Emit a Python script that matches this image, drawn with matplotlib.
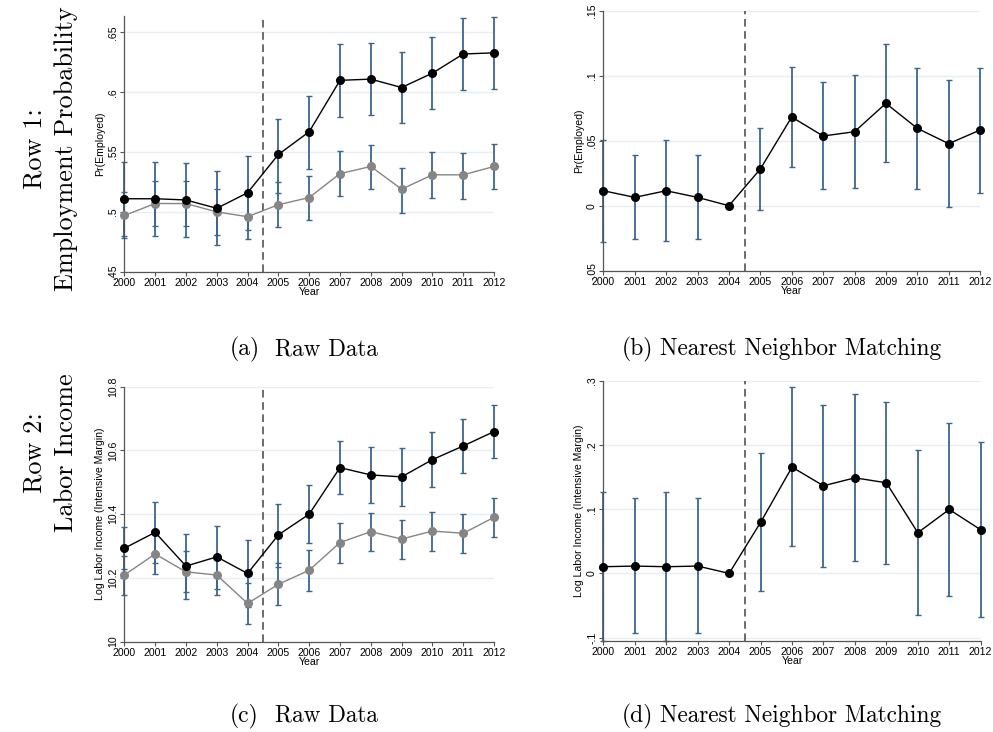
import matplotlib.pyplot as plt
import numpy as np

years = np.arange(2000, 2013)

# (a) raw employment probability: treated (black) and comparison (gray)
emp_treat = [0.511, 0.511, 0.510, 0.503, 0.516, 0.548, 0.567, 0.610, 0.611, 0.604, 0.616, 0.632, 0.633]
emp_treat_lo = [0.480, 0.480, 0.479, 0.472, 0.485, 0.516, 0.536, 0.579, 0.581, 0.574, 0.586, 0.602, 0.603]
emp_treat_hi = [0.542, 0.542, 0.541, 0.534, 0.547, 0.578, 0.597, 0.640, 0.641, 0.634, 0.646, 0.662, 0.663]
emp_comp = [0.497, 0.507, 0.507, 0.500, 0.496, 0.506, 0.512, 0.532, 0.538, 0.519, 0.531, 0.531, 0.538]
emp_comp_lo = [0.478, 0.488, 0.488, 0.481, 0.477, 0.487, 0.493, 0.513, 0.519, 0.499, 0.512, 0.511, 0.519]
emp_comp_hi = [0.517, 0.526, 0.526, 0.519, 0.516, 0.525, 0.530, 0.551, 0.556, 0.537, 0.550, 0.549, 0.557]

# (b) nearest neighbor matching, employment
emp_nn = [0.0115, 0.0064, 0.0115, 0.0064, 0.0, 0.0282, 0.0682, 0.0536, 0.0569, 0.0787, 0.0595, 0.0477, 0.0582]
emp_nn_lo = [-0.0277, -0.0256, -0.0274, -0.0256, 0.0, -0.0033, 0.0295, 0.0126, 0.0133, 0.0338, 0.0131, -0.0008, 0.0100]
emp_nn_hi = [0.0507, 0.0387, 0.0505, 0.0387, 0.0, 0.0595, 0.1069, 0.0949, 0.1005, 0.1241, 0.1062, 0.0964, 0.1062]

# (c) raw log labor income
inc_treat = [10.293, 10.343, 10.237, 10.266, 10.214, 10.335, 10.400, 10.546, 10.523, 10.517, 10.571, 10.614, 10.659]
inc_treat_lo = [10.227, 10.248, 10.134, 10.166, 10.110, 10.235, 10.308, 10.464, 10.434, 10.426, 10.484, 10.529, 10.577]
inc_treat_hi = [10.360, 10.437, 10.339, 10.363, 10.318, 10.432, 10.490, 10.628, 10.611, 10.607, 10.657, 10.697, 10.742]
inc_comp = [10.209, 10.275, 10.219, 10.209, 10.120, 10.180, 10.224, 10.311, 10.345, 10.322, 10.347, 10.340, 10.390]
inc_comp_lo = [10.146, 10.212, 10.155, 10.146, 10.054, 10.115, 10.159, 10.248, 10.284, 10.259, 10.283, 10.278, 10.328]
inc_comp_hi = [10.270, 10.338, 10.283, 10.272, 10.185, 10.246, 10.288, 10.371, 10.405, 10.383, 10.408, 10.402, 10.451]

# (d) nearest neighbor matching, log labor income
inc_nn = [0.0104, 0.0114, 0.0104, 0.0114, 0.0, 0.0795, 0.1657, 0.1366, 0.1490, 0.1413, 0.0634, 0.0997, 0.0680]
inc_nn_lo = [-0.105, -0.0935, -0.105, -0.0935, 0.0, -0.0275, 0.0426, 0.0104, 0.0197, 0.0145, -0.0650, -0.0353, -0.0680]
inc_nn_hi = [0.127, 0.117, 0.127, 0.117, 0.0, 0.188, 0.290, 0.263, 0.279, 0.268, 0.192, 0.234, 0.2047]

NAVY = "#3a6690"
GRID = "#e6eef1"
TICKFONT = "Liberation Sans"


def draw_series(ax, y, lo, hi, color, lw=1.0):
    y = np.asarray(y)
    err = [y - np.asarray(lo), np.asarray(hi) - y]
    eb = ax.errorbar(years, y, yerr=err, fmt="none", ecolor=NAVY, elinewidth=1.3,
                     capsize=2.5, capthick=1.0, zorder=2)
    for artist in eb.lines[1] + eb.lines[2]:
        artist.set_clip_on(False)
    ax.plot(years, y, "-", color=color, lw=lw, zorder=3)
    ax.plot(years, y, "o", color=color, ms=5.5, zorder=4, clip_on=False)


def style_axes(ax, ylim, yticks, yticklabels, ylabel):
    ax.set_xlim(2000, 2012)
    ax.set_ylim(*ylim)
    ax.set_xticks(years)
    ax.set_xticklabels([str(y) for y in years], fontsize=7.6, family=TICKFONT)
    ax.set_yticks(yticks)
    ax.set_yticklabels(yticklabels, fontsize=7.6, family=TICKFONT,
                       rotation=90, va="center")
    ax.set_xlabel("Year", fontsize=7.6, family=TICKFONT, labelpad=-1)
    ax.set_ylabel(ylabel, fontsize=7.6, family=TICKFONT, labelpad=2)
    for side in ("top", "right"):
        ax.spines[side].set_visible(False)
    for side in ("left", "bottom"):
        ax.spines[side].set_color("#555555")
        ax.spines[side].set_linewidth(0.9)
    ax.tick_params(direction="out", length=3, width=0.8, color="#555555", pad=1.5)
    ax.yaxis.grid(True, color=GRID, lw=1.0, zorder=0)
    ax.set_axisbelow(True)
    ax.axvline(2004.5, color="#444444", lw=1.1, ls=(0, (5, 3)), zorder=1)


fig = plt.figure(figsize=(9.93, 7.32), dpi=100)

ax_a = fig.add_axes([0.1252, 0.6288, 0.3723, 0.3497])
ax_b = fig.add_axes([0.6076, 0.6302, 0.3794, 0.3552])
ax_c = fig.add_axes([0.1252, 0.1234, 0.3723, 0.3484])
ax_d = fig.add_axes([0.6076, 0.1247, 0.3800, 0.3548])

draw_series(ax_a, emp_comp, emp_comp_lo, emp_comp_hi, "#858585")
draw_series(ax_a, emp_treat, emp_treat_lo, emp_treat_hi, "black")
style_axes(ax_a, (0.45, 0.664), [0.45, 0.5, 0.55, 0.6, 0.65],
           [".45", ".5", ".55", ".6", ".65"], "Pr(Employed)")

draw_series(ax_b, emp_nn, emp_nn_lo, emp_nn_hi, "black")
style_axes(ax_b, (-0.05, 0.15), [-0.05, 0, 0.05, 0.1, 0.15],
           ["-.05", "0", ".05", ".1", ".15"], "Pr(Employed)")

draw_series(ax_c, inc_comp, inc_comp_lo, inc_comp_hi, "#858585")
draw_series(ax_c, inc_treat, inc_treat_lo, inc_treat_hi, "black")
style_axes(ax_c, (10.0, 10.8), [10.0, 10.2, 10.4, 10.6, 10.8],
           ["10", "10.2", "10.4", "10.6", "10.8"],
           "Log Labor Income (Intensive Margin)")

draw_series(ax_d, inc_nn, inc_nn_lo, inc_nn_hi, "black")
style_axes(ax_d, (-0.105, 0.3), [-0.1, 0, 0.1, 0.2, 0.3],
           ["-.1", "0", ".1", ".2", ".3"],
           "Log Labor Income (Intensive Margin)")

# row labels and panel captions in a LaTeX-like serif face
serif = "cmr10"
W, H = 993, 732
row_labels = [("Row 1:", "Employment Probability", 149),
              ("Row 2:", "Labor Income", 453)]
for head, name, yc in row_labels:
    fig.text(35 / W, 1 - yc / H, head, rotation=90, ha="center", va="center",
             fontsize=18.9, family=serif)
    fig.text(66 / W, 1 - yc / H, name, rotation=90, ha="center", va="center",
             fontsize=18.9, family=serif)

captions = [("(a)", "Raw Data", 230, 275, 355),
            ("(b)", "Nearest Neighbor Matching", 622, 660, 355),
            ("(c)", "Raw Data", 230, 275, 722),
            ("(d)", "Nearest Neighbor Matching", 622, 660, 722)]
for tag, text, x_tag, x_text, y_base in captions:
    fig.text(x_tag / W, 1 - y_base / H, tag, ha="left", va="baseline",
             fontsize=17, family=serif)
    fig.text(x_text / W, 1 - y_base / H, text, ha="left", va="baseline",
             fontsize=16.8, family=serif)

fig.savefig("out.png", dpi=100, facecolor="white")
